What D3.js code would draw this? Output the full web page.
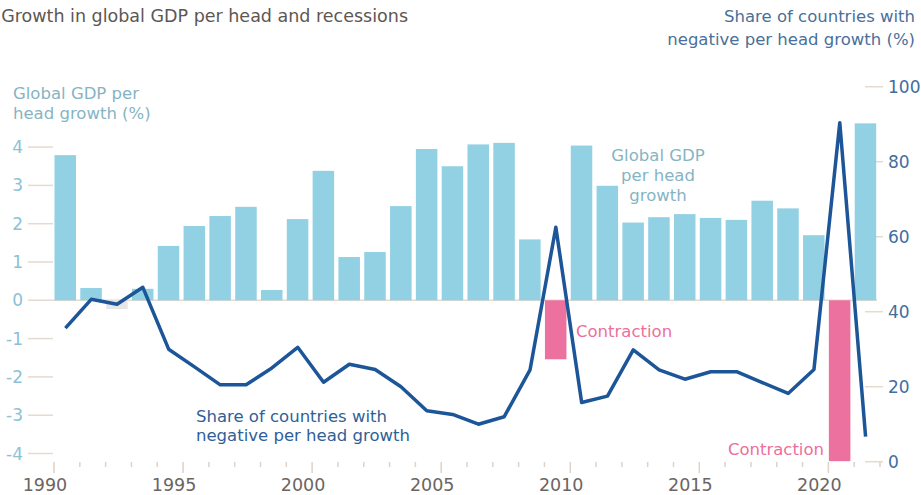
<!DOCTYPE html>
<html>
<head>
<meta charset="utf-8">
<script src="https://cdn.jsdelivr.net/npm/d3@7"></script>
<style>
  body { margin: 0; background: #fff; }
  svg text { font-family: "DejaVu Sans", sans-serif; }
</style>
</head>
<body>
<svg id="chart" width="921" height="495"></svg>
<script>
const years = [1990, 1991, 1992, 1993, 1994, 1995, 1996, 1997, 1998, 1999,
  2000, 2001, 2002, 2003, 2004, 2005, 2006, 2007, 2008, 2009,
  2010, 2011, 2012, 2013, 2014, 2015, 2016, 2017, 2018, 2019,
  2020, 2021];
// global GDP per head growth, %
const gdpGrowth = [3.79, 0.32, -0.23, 0.30, 1.42, 1.94, 2.2, 2.44, 0.27, 2.12,
  3.38, 1.13, 1.26, 2.46, 3.95, 3.5, 4.07, 4.11, 1.59, -1.54,
  4.04, 2.99, 2.03, 2.17, 2.25, 2.15, 2.1, 2.6, 2.4, 1.7,
  -4.2, 4.62];
// share of countries with negative per head growth, %
const negShare = [35.6, 43.3, 42.0, 46.5, 30.0, 25.3, 20.5, 20.5, 25.0, 30.5,
  21.2, 26.0, 24.6, 20.0, 13.6, 12.6, 10.0, 12.0, 24.5, 62.5,
  15.8, 17.5, 29.8, 24.5, 22.0, 24.0, 24.0, 21.1, 18.2, 24.6,
  90.4, 6.7];
const recessions = [2009, 2020];
const leftTicks = [-4, -3, -2, -1, 0, 1, 2, 3, 4];
const rightTicks = [0, 20, 40, 60, 80, 100];
const yearLabels = [1990, 1995, 2000, 2005, 2010, 2015, 2020];

const svg = d3.select('#chart');

const x = d3.scaleLinear().domain([1990, 2022]).range([54, 880]);
const yL = d3.scaleLinear().domain([-4, 4]).range([453.5, 147.1]);
const yR = d3.scaleLinear().domain([0, 100]).range([461.7, 86.7]);

const step = x(1991) - x(1990);
const barW = step - 4.3;

const data = years.map((yr, i) => ({year: yr, gdp: gdpGrowth[i], share: negShare[i]}));

// left axis: short ticks + labels
const left = svg.append('g').attr('class', 'left-axis');
left.selectAll('line')
    .data(leftTicks)
    .enter()
    .append('line')
    .attr('x1', 28)
    .attr('x2', (d) => d === 0 ? x(2022) - 3 : 53)
    .attr('y1', (d) => yL(d))
    .attr('y2', (d) => yL(d))
    .style('stroke', '#e4dacf')
    .style('stroke-width', 1.5);
left.selectAll('text')
    .data(leftTicks)
    .enter()
    .append('text')
    .attr('x', 23)
    .attr('y', (d) => yL(d) + 6)
    .attr('text-anchor', 'end')
    .style('font-size', '17px')
    .style('fill', '#8bc2d5')
    .text((d) => d);

// right axis
const right = svg.append('g').attr('class', 'right-axis');
right.selectAll('line')
    .data(rightTicks)
    .enter()
    .append('line')
    .attr('x1', 865)
    .attr('x2', 883)
    .attr('y1', (d) => yR(d))
    .attr('y2', (d) => yR(d))
    .style('stroke', '#e4dacf')
    .style('stroke-width', 1.5);
right.selectAll('text')
    .data(rightTicks)
    .enter()
    .append('text')
    .attr('x', 888)
    .attr('y', (d) => yR(d) + 6)
    .style('font-size', '17px')
    .style('fill', '#3f6e9f')
    .text((d) => d);

// bottom ticks
const bottom = svg.append('g').attr('class', 'x-axis');
bottom.selectAll('line')
    .data(years.concat([2022]))
    .enter()
    .append('line')
    .attr('x1', (d) => x(d))
    .attr('x2', (d) => x(d))
    .attr('y1', 462)
    .attr('y2', (d) => d % 5 === 0 ? 473 : 467)
    .style('stroke', '#ddd3c8')
    .style('stroke-width', 1.5);
bottom.selectAll('text')
    .data(yearLabels)
    .enter()
    .append('text')
    .attr('x', (d) => x(d) - 9)
    .attr('y', 491)
    .attr('text-anchor', 'middle')
    .style('font-size', '17.5px')
    .style('fill', '#6b6562')
    .text((d) => d);

// bars
svg.append('g')
    .selectAll('rect')
    .data(data)
    .enter()
    .append('rect')
    .attr('x', (d) => x(d.year) + 0.5)
    .attr('width', barW)
    .attr('y', (d) => yL(Math.max(0, d.gdp)))
    .attr('height', (d) => Math.abs(yL(d.gdp) - yL(0)))
    .style('fill', (d) => d.gdp >= 0 ? '#92d1e4' : (recessions.includes(d.year) ? '#ed719e' : '#e6e6e6'));

// share line
const line = d3.line()
    .x((d) => x(d.year) + step / 2 - 1.5)
    .y((d) => yR(d.share));

svg.append('path')
    .datum(data)
    .attr('d', line)
    .style('fill', 'none')
    .style('stroke', '#1c5598')
    .style('stroke-width', 3.5)
    .style('stroke-linejoin', 'round');

// titles and annotations
const addText = (lines, xPos, yPos, anchor, color, size, gap) => {
  const t = svg.append('text')
      .attr('x', xPos)
      .attr('y', yPos)
      .attr('text-anchor', anchor)
      .style('font-size', size + 'px')
      .style('fill', color);
  lines.forEach((s, i) => {
    t.append('tspan')
        .attr('x', xPos)
        .attr('dy', i === 0 ? 0 : gap)
        .text(s);
  });
  return t;
};

addText(['Growth in global GDP per head and recessions'], 408, 22, 'end', '#5d5753', 17.5, 0);
addText(['Share of countries with', 'negative per head growth (%)'], 915, 22, 'end', '#4a6f9b', 16.5, 23);
addText(['Global GDP per', 'head growth (%)'], 13, 99, 'start', '#86b4c4', 16.5, 20);
addText(['Global GDP', 'per head', 'growth'], 658, 161, 'middle', '#86b4c4', 16.5, 20);
addText(['Share of countries with', 'negative per head growth'], 196, 422, 'start', '#2f5f98', 16.5, 19);
addText(['Contraction'], 576, 337, 'start', '#ec6f9d', 16.5, 0);
addText(['Contraction'], 824, 455, 'end', '#ec6f9d', 16.5, 0);
</script>
</body>
</html>
